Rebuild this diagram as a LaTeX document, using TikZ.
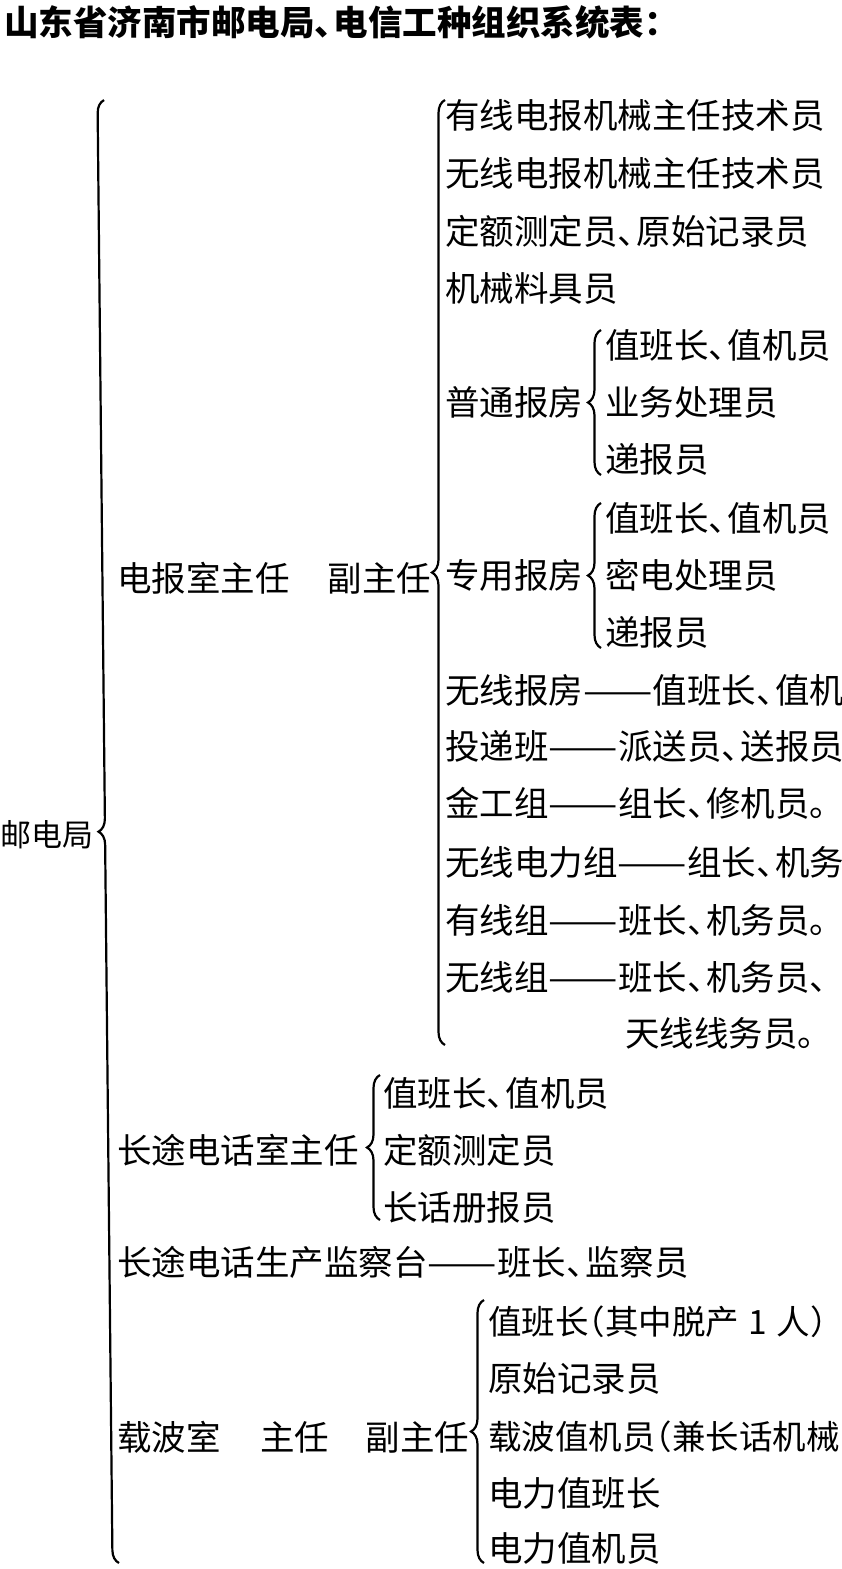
\documentclass[tikz,border=0pt]{standalone}
\usepackage{fontspec}
\usepackage{graphicx}
\usetikzlibrary{decorations.pathreplacing}
\newfontfamily\cjk{Noto Sans CJK SC}
\newcommand{\dun}{、\kern-.45em}
\newcommand{\ddash}{\scalebox{1.2}[1]{——}}
\newcommand{\lpar}{\kern-.5em（}
\newcommand{\rpar}{）\kern-.5em}

\tikzset{
  item/.style={anchor=west, inner sep=0pt, font=\cjk\fontsize{34.5}{34.5}\selectfont},
  narrow/.style={font=\cjk\fontsize{33.5}{33.5}\selectfont},
  brc/.style={decorate, decoration={brace, amplitude=13pt}, line width=2.2pt},
}

\begin{document}
\begin{tikzpicture}[x=1pt, y=-1pt]
		\useasboundingbox (0,0) rectangle (842,1569);

		% Title
		\node[item, font=\cjk\bfseries\fontsize{34.5}{34.5}\selectfont] (title) at (4,22) {山东省济南市邮电局\dun 电信工种组织系统表：};

		% Root
		\node[item, font=\cjk\fontsize{31}{31}\selectfont] (root) at (0,835) {邮电局};

		% Second level
		\node[item] (dbs) at (117,578) {电报室主任\hspace{1.1em}副主任};
		\node[item] (ctds) at (117,1150) {长途电话室主任};
		\node[item] (jct) at (117,1262) {长途电话生产监察台\ddash 班长\dun 监察员};
		\node[item] (zbs) at (117,1437) {载波室\hspace{1.15em}主任\hspace{1.05em}副主任};

		% Telegraph office
		\node[item] (d1) at (445,115) {有线电报机械主任技术员};
		\node[item] (d2) at (445,173) {无线电报机械主任技术员};
		\node[item] (d3) at (445,231) {定额测定员\dun 原始记录员};
		\node[item] (d4) at (445,288) {机械料具员};
		\node[item] (ptbf) at (445,402) {普通报房};
		\node[item] (zybf) at (445,575) {专用报房};
		\node[item] (d7) at (445,690) {无线报房\ddash 值班长\dun 值机};
		\node[item] (d8) at (445,746) {投递班\ddash 派送员\dun 送报员};
		\node[item] (d9) at (445,803) {金工组\ddash 组长\dun 修机员。};
		\node[item] (d10) at (445,862) {无线电力组\ddash 组长\dun 机务};
		\node[item] (d11) at (445,920) {有线组\ddash 班长\dun 机务员。};
		\node[item] (d12) at (445,977) {无线组\ddash 班长\dun 机务员\dun};
		\node[item] (d13) at (625,1033) {天线线务员。};

		% Ordinary and special telegraph rooms
		\node[item] (pt1) at (605,345) {值班长\dun 值机员};
		\node[item] (pt2) at (605,402) {业务处理员};
		\node[item] (pt3) at (605,459) {递报员};
		\node[item] (zy1) at (605,518) {值班长\dun 值机员};
		\node[item] (zy2) at (605,575) {密电处理员};
		\node[item] (zy3) at (605,632) {递报员};

		% Long distance telephone office
		\node[item] (ct1) at (383,1093) {值班长\dun 值机员};
		\node[item] (ct2) at (383,1150) {定额测定员};
		\node[item] (ct3) at (383,1207) {长话册报员};

		% Carrier room
		\node[item, narrow] (zb1) at (488,1322) {值班长\lpar 其中脱产\hspace{.28em}1\hspace{.28em}人\rpar};
		\node[item] (zb2) at (488,1378) {原始记录员};
		\node[item, narrow] (zb3) at (488,1437) {载波值机员\lpar 兼长话机械};
		\node[item] (zb4) at (488,1493) {电力值班长};
		\node[item] (zb5) at (488,1548) {电力值机员};

		% Brace ends
		\coordinate (root-top) at (104,100);
		\coordinate (root-bot) at (119,1563);
		\coordinate (dbs-top) at (445,100);
		\coordinate (dbs-bot) at (445,1045);
		\coordinate (ptbf-top) at (601,330);
		\coordinate (ptbf-bot) at (601,475);
		\coordinate (zybf-top) at (601,503);
		\coordinate (zybf-bot) at (601,648);
		\coordinate (ctds-top) at (380,1075);
		\coordinate (ctds-bot) at (380,1220);
		\coordinate (zbs-top) at (484,1300);
		\coordinate (zbs-bot) at (484,1563);

		% Braces
		\foreach \b in {root,dbs,ptbf,zybf,ctds,zbs} {
				\draw[brc] (\b-bot) -- (\b-top);
			}
	\end{tikzpicture}
\end{document}
